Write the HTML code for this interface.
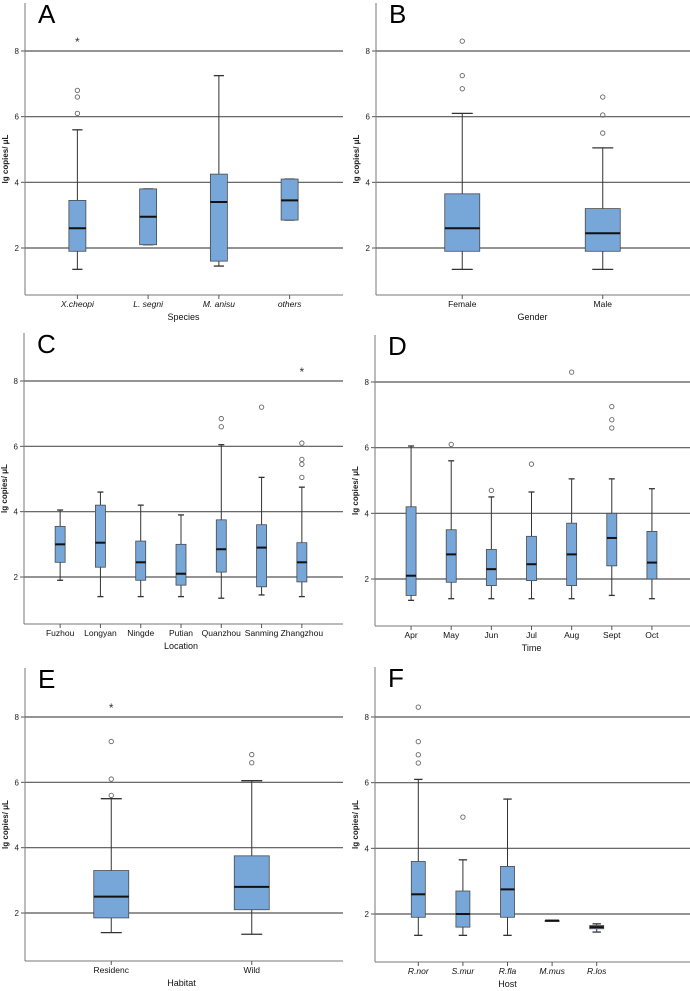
<!DOCTYPE html>
<html><head><meta charset="utf-8"><style>
body{margin:0;background:#fff;width:690px;height:991px;overflow:hidden}
svg{display:block;font-family:"Liberation Sans",sans-serif}
</style></head><body>
<svg id="fig" width="690" height="991"></svg>
<script>
// Panel A data: [min,q1,median,q3,max]
const catsA=["X.cheopi","L. segni","M. anisu","others"];
const statsA=[[1.35,1.9,2.6,3.45,5.6],[2.1,2.1,2.95,3.8,3.8],[1.45,1.6,3.4,4.25,7.25],[2.85,2.85,3.45,4.1,4.1]];
const outA=[[6.1,6.6,6.8],[],[],[]];
const extA=[[8.3],[],[],[]];
// Panel B
const catsB=["Female","Male"];
const statsB=[[1.35,1.9,2.6,3.65,6.1],[1.35,1.9,2.45,3.2,5.05]];
const outB=[[6.85,7.25,8.3],[5.5,6.05,6.6]];
const extB=[[],[]];
// Panel C
const catsC=["Fuzhou","Longyan","Ningde","Putian","Quanzhou","Sanming","Zhangzhou"];
const statsC=[[1.9,2.45,3.0,3.55,4.05],[1.4,2.3,3.05,4.2,4.6],[1.4,1.9,2.45,3.1,4.2],[1.4,1.75,2.1,3.0,3.9],[1.35,2.15,2.85,3.75,6.05],[1.45,1.7,2.9,3.6,5.05],[1.4,1.85,2.45,3.05,4.75]];
const outC=[[],[],[],[],[6.6,6.85],[7.2],[5.05,5.45,5.6,6.1]];
const extC=[[],[],[],[],[],[],[8.3]];
// Panel D
const catsD=["Apr","May","Jun","Jul","Aug","Sept","Oct"];
const statsD=[[1.35,1.5,2.1,4.2,6.05],[1.4,1.9,2.75,3.5,5.6],[1.4,1.8,2.3,2.9,4.5],[1.4,1.95,2.45,3.3,4.65],[1.4,1.8,2.75,3.7,5.05],[1.5,2.4,3.25,4.0,5.05],[1.4,2.0,2.5,3.45,4.75]];
const outD=[[],[6.1],[4.7],[5.5],[8.3],[6.6,6.85,7.25],[]];
const extD=[[],[],[],[],[],[],[]];
// Panel E
const catsE=["Residenc","Wild"];
const statsE=[[1.4,1.85,2.5,3.3,5.5],[1.35,2.1,2.8,3.75,6.05]];
const outE=[[5.6,6.1,7.25],[6.6,6.85]];
const extE=[[8.3],[]];
// Panel F
const catsF=["R.nor","S.mur","R.fla","M.mus","R.los"];
const statsF=[[1.35,1.9,2.6,3.6,6.1],[1.35,1.6,2.0,2.7,3.65],[1.35,1.9,2.75,3.45,5.5],[1.8,1.8,1.8,1.8,1.8],[1.45,1.55,1.6,1.65,1.7]];
const outF=[[6.6,6.85,7.25,8.3],[4.95],[],[],[]];
const extF=[[],[],[],[],[]];
const yTicks=[2,4,6,8];

const NS="http://www.w3.org/2000/svg";
const svg=document.getElementById("fig");
function mk(tag,attrs,parent,text){const e=document.createElementNS(NS,tag);for(const k in attrs)e.setAttribute(k,attrs[k]);if(text!==undefined)e.textContent=text;(parent||svg).appendChild(e);return e;}

function panel(p){
  const g=mk("g",{});
  
  
  const y=v=>p.y2+(v-2)*(p.y8-p.y2)/6;
  const n=p.cats.length;
  const x=i=>p.x0+(i+0.5)*(p.x1-p.x0)/n;
  const L=mk("text",{x:p.ax+13,y:p.top+20,"font-size":26,fill:"#000"},g,p.letter);
  
  
  yTicks.forEach(t=>{
    const gl=mk("line",{x1:p.ax,x2:p.right,y1:y(t),y2:y(t),stroke:"#555","stroke-width":1.2},g);
    
    
    mk("line",{x1:p.ax-4,x2:p.ax,y1:y(t),y2:y(t),stroke:"#555"},g);
    const tl=mk("text",{x:p.ax-6,y:y(t)+3,"font-size":8,"text-anchor":"end",fill:"#222"},g,t);
    
    
  });
  mk("line",{x1:p.ax,x2:p.ax,y1:p.top,y2:p.bottom,stroke:"#777"},g);
  mk("line",{x1:p.ax,x2:p.right,y1:p.bottom,y2:p.bottom,stroke:"#777"},g);
  const yt=mk("text",{transform:`translate(${p.ax-17},${(p.top+p.bottom)/2+10}) rotate(-90)`,"font-size":8,"font-weight":"bold","text-anchor":"middle",fill:"#222"},g,"lg copies/ μL");
  
  
  p.stats.forEach((s,i)=>{
    const cx=x(i),w=p.bw;
    mk("line",{x1:cx,x2:cx,y1:p.bottom,y2:p.bottom+4,stroke:"#555"},g);
    const xl=mk("text",{x:cx,y:p.bottom+12,"font-size":8.5,"text-anchor":"middle","font-style":p.italic?"italic":"normal",fill:"#111"},g,p.cats[i]);
    
    
    mk("line",{x1:cx,x2:cx,y1:y(s[0]),y2:y(s[4]),stroke:"#333","stroke-width":1},g);
    mk("line",{x1:cx-w*0.3,x2:cx+w*0.3,y1:y(s[0]),y2:y(s[0]),stroke:"#333","stroke-width":1.3},g);
    mk("line",{x1:cx-w*0.3,x2:cx+w*0.3,y1:y(s[4]),y2:y(s[4]),stroke:"#333","stroke-width":1.3},g);
    const b=mk("rect",{x:cx-w/2,y:y(s[3]),width:w,height:Math.max(1,y(s[1])-y(s[3])),fill:"#77a6d8",stroke:"#4a4a4a","stroke-width":0.8},g);
    
    
    mk("line",{x1:cx-w/2,x2:cx+w/2,y1:y(s[2]),y2:y(s[2]),stroke:"#111","stroke-width":2},g);
    p.out[i].forEach(v=>{
      const c=mk("circle",{cx:cx,cy:y(v),r:2.2,fill:"none",stroke:"#666","stroke-width":0.9},g);
      
      
    });
    p.ext[i].forEach(v=>{
      const c=mk("text",{x:cx,y:y(v)+5,"font-size":12,"text-anchor":"middle",fill:"#333"},g,"*");
      
      
    });
  });
  const xt=mk("text",{x:(p.x0+p.x1)/2,y:p.bottom+25,"font-size":9,"text-anchor":"middle",fill:"#111"},g,p.title);
  
  
}
panel({letter:"A",cats:catsA,stats:statsA,out:outA,ext:extA,ax:25,right:343,top:3,bottom:295,y8:51,y2:248,x0:42,x1:325,bw:17,italic:true,title:"Species"});
panel({letter:"B",cats:catsB,stats:statsB,out:outB,ext:extB,ax:376,right:690,top:3,bottom:295,y8:51,y2:248,x0:392,x1:673,bw:35,title:"Gender"});
panel({letter:"C",cats:catsC,stats:statsC,out:outC,ext:extC,ax:24,right:343,top:333,bottom:624,y8:381,y2:577,x0:40,x1:322,bw:10,title:"Location"});
panel({letter:"D",cats:catsD,stats:statsD,out:outD,ext:extD,ax:375,right:690,top:335,bottom:626,y8:382,y2:579,x0:391,x1:672,bw:10,title:"Time"});
panel({letter:"E",cats:catsE,stats:statsE,out:outE,ext:extE,ax:25,right:343,top:668,bottom:961,y8:717,y2:913,x0:41,x1:322,bw:35,title:"Habitat"});
panel({letter:"F",cats:catsF,stats:statsF,out:outF,ext:extF,ax:375,right:690,top:667,bottom:962,y8:717,y2:914,x0:396,x1:619,bw:14,italic:true,title:"Host"});
</script>
</body></html>
